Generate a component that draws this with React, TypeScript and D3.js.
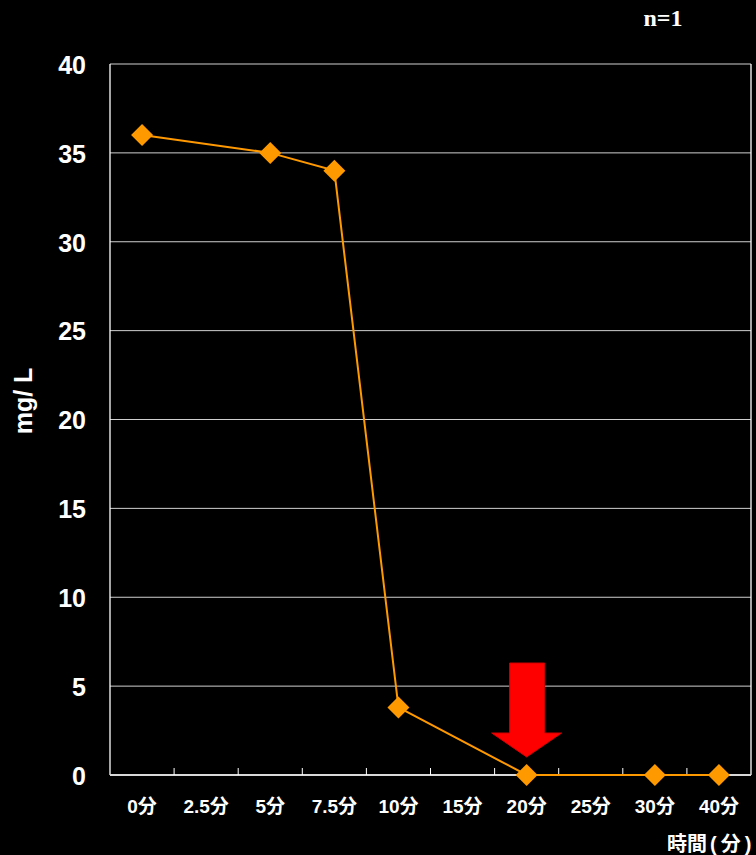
import React from "react";
import * as d3 from "d3";

// Concentration (mg/L) over elapsed time
const categories = ["0分", "2.5分", "5分", "7.5分", "10分", "15分", "20分", "25分", "30分", "40分"];
const concentration: (number | null)[] = [36, null, 35, 34, 3.8, null, 0, null, 0, 0];
const yTicks = [0, 5, 10, 15, 20, 25, 30, 35, 40];
const yLabel = "mg/ L";
const xTitleParts = ["時間", "(", "分", ")"];
const sampleNote = "n=1";
const arrowAt = "20分";

const W = 756;
const H = 855;
const M = { left: 110, right: 5, top: 64, bottom: 80 };
const FONT = "'Liberation Sans', 'Noto Sans CJK JP', sans-serif";

export default function App() {
  const x = d3
    .scaleBand<string>()
    .domain(categories)
    .range([M.left, W - M.right])
    .paddingInner(0)
    .paddingOuter(0);
  const y = d3.scaleLinear().domain([0, 40]).range([H - M.bottom, M.top]);

  const pts = categories
    .map((c, i) => ({ c, v: concentration[i] }))
    .filter((d) => d.v !== null) as { c: string; v: number }[];

  const cx = (c: string) => (x(c) ?? 0) + x.bandwidth() / 2;
  const line = d3
    .line<{ c: string; v: number }>()
    .x((d) => cx(d.c))
    .y((d) => y(d.v));

  const x0 = M.left;
  const x1 = W - M.right;
  const yBase = y(0);
  const ms = 11;

  // Arrow pointing at the chosen category
  const ax = cx(arrowAt);
  const tipY = yBase - 18;
  const arrow = [
    [ax - 17, y(6.3)],
    [ax + 18, y(6.3)],
    [ax + 18, tipY - 24],
    [ax + 35, tipY - 24],
    [ax, tipY],
    [ax - 35, tipY - 24],
    [ax - 17, tipY - 24],
  ];

  return (
    <svg width={W} height={H} style={{ display: "block", position: "absolute", left: 0, top: 0 }}>
      <rect width={W} height={H} fill="#000" />
      {/* horizontal gridlines */}
      {yTicks
        .filter((t) => t > 0)
        .map((t) => (
          <line key={t} x1={x0} x2={x1} y1={y(t)} y2={y(t)} stroke="#d0d0d0" strokeWidth={1} />
        ))}
      {/* plot frame */}
      <line x1={x0} x2={x0} y1={y(40)} y2={yBase} stroke="#ffffff" strokeWidth={1.3} />
      <line x1={x1} x2={x1} y1={y(40)} y2={yBase} stroke="#ffffff" strokeWidth={1.3} />
      <line x1={x0} x2={x1} y1={yBase} y2={yBase} stroke="#d8d8d8" strokeWidth={1.8} />
      {/* x ticks at category boundaries */}
      {categories.slice(1).map((c) => (
        <line key={c} x1={x(c)} x2={x(c)} y1={yBase} y2={yBase - 7} stroke="#ffffff" strokeWidth={1} />
      ))}
      {/* y tick labels */}
      {yTicks.map((t) => (
        <text
          key={t}
          x={86}
          y={y(t) + 1}
          dy="0.35em"
          textAnchor="end"
          fill="#fff"
          fontFamily={FONT}
          fontWeight="bold"
          fontSize={25}
        >
          {t}
        </text>
      ))}
      {/* x tick labels */}
      {categories.map((c) => (
        <text
          key={c}
          x={cx(c)}
          y={806}
          dy="0.35em"
          textAnchor="middle"
          fill="#fff"
          fontFamily={FONT}
          fontWeight="bold"
          fontSize={19}
        >
          {c}
        </text>
      ))}
      {/* series */}
      <path d={line(pts) ?? ""} fill="none" stroke="#ff9900" strokeWidth={2} />
      {pts.map((d) => {
        const px = cx(d.c);
        const py = y(d.v);
        return (
          <path
            key={d.c}
            d={`M${px},${py - ms}L${px + ms},${py}L${px},${py + ms}L${px - ms},${py}Z`}
            fill="#ff9900"
          />
        );
      })}
      {/* red arrow */}
      <polygon points={arrow.map((p) => p.join(",")).join(" ")} fill="#ff0000" stroke="#d00000" strokeWidth={1} />
      {/* titles */}
      <text
        x={23}
        y={401}
        transform="rotate(-90 23 401)"
        textAnchor="middle"
        dy="0.35em"
        fill="#fff"
        fontFamily={FONT}
        fontWeight="bold"
        fontSize={25}
      >
        {yLabel}
      </text>
      <text x={667} y={844} dy="0.35em" fill="#fff" fontFamily={FONT} fontWeight="bold" fontSize={20}>
        {xTitleParts.map((p, i) => (
          <tspan key={i} dx={i === 0 ? 0 : i === 1 ? 3 : 4}>
            {p}
          </tspan>
        ))}
      </text>
      <text
        x={663}
        y={18}
        dy="0.35em"
        textAnchor="middle"
        fill="#fff"
        fontFamily="'Liberation Serif', serif"
        fontWeight="bold"
        fontSize={24}
      >
        {sampleNote}
      </text>
    </svg>
  );
}
